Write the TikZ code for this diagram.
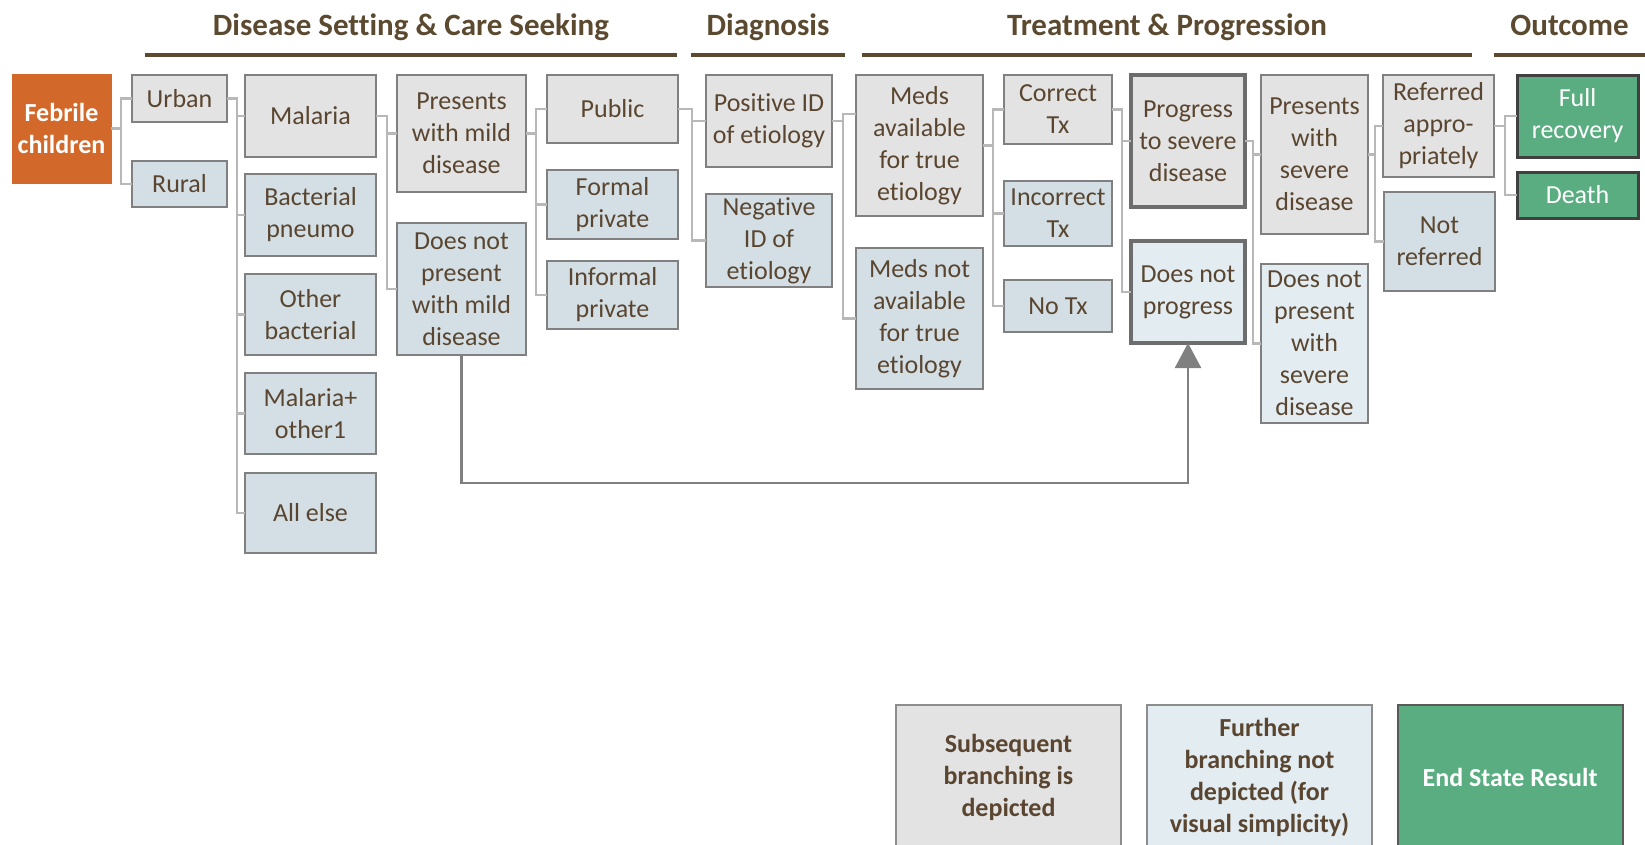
\documentclass[tikz,border=0pt]{standalone}
\usepackage{fontspec}
\setmainfont{Carlito}[Ligatures=NoCommon]
\usetikzlibrary{arrows.meta}
\definecolor{txt}{HTML}{5A4630}
\definecolor{rulec}{HTML}{5B4A30}
\definecolor{gfill}{HTML}{E3E3E3}
\definecolor{bfill}{HTML}{D3DFE5}
\definecolor{lfill}{HTML}{E2ECF1}
\definecolor{grn}{HTML}{59AD80}
\definecolor{orng}{HTML}{D2692A}
\definecolor{bord}{HTML}{808080}
\definecolor{connc}{HTML}{B8B8B8}
\begin{document}
\begin{tikzpicture}[x=1pt,y=-1pt,
  bx/.style={draw=bord, line width=2.5pt, inner sep=0pt, outer sep=0pt, align=center,
    text=txt, font=\fontsize{26}{32}\selectfont},
  gb/.style={bx, fill=gfill},
  bb/.style={bx, fill=bfill},
  lb/.style={bx, fill=lfill},
  thick box/.style={line width=3.5pt, draw=bord!85!black},
  endb/.style={bx, fill=grn, draw=black!75, line width=3pt, text=white},
  conn/.style={draw=connc, line width=2.2pt},
  arr/.style={draw=bord, line width=2.5pt, -{Triangle[width=26pt,length=25pt]}},
  head/.style={text=rulec, font=\fontsize{31}{36}\selectfont\bfseries, anchor=base},
  hrule/.style={draw=rulec, line width=4pt},
  leg/.style={draw=bord!90, line width=2pt, inner sep=0pt, outer sep=0pt, align=center,
    text=txt, font=\fontsize{26}{32}\selectfont\bfseries, minimum width=225pt, minimum height=144pt}
]
\useasboundingbox (0,0) rectangle (1645,844);
\clip (0,0) rectangle (1645,844);

% headings
\node[head] (h1) at (411,35) {Disease Setting \& Care Seeking};
\node[head] (h2) at (768,35) {Diagnosis};
\node[head] (h3) at (1167,35) {Treatment \& Progression};
\node[head] (h4) at (1569.5,35) {Outcome};
\draw[hrule] (145,55) -- (677,55);
\draw[hrule] (691,55) -- (845,55);
\draw[hrule] (862,55) -- (1472,55);
\draw[hrule] (1494,55) -- (1645,55);

% nodes
\node[bx, fill=orng, draw=orng, line width=1pt, text=white, font=\fontsize{26}{32}\selectfont\bfseries,
  minimum width=99pt, minimum height=109pt] (feb) at (61.5,128.5) {Febrile\\children};
\node[gb, minimum width=95pt, minimum height=47pt] (urban) at (179.5,98.5) {Urban};
\node[bb, minimum width=95pt, minimum height=46pt] (rural) at (179.5,184) {Rural};

\node[gb, minimum width=131pt, minimum height=82pt] (mal) at (310.5,116) {Malaria};
\node[bb, minimum width=131pt, minimum height=82pt] (bac) at (310.5,215) {Bacterial\\pneumo};
\node[bb, minimum width=131pt, minimum height=81pt] (oth) at (310.5,314.5) {Other\\bacterial};
\node[bb, minimum width=131pt, minimum height=81pt] (malo) at (310.5,413.5) {Malaria+\\other1};
\node[bb, minimum width=131pt, minimum height=80pt] (alle) at (310.5,513) {All else};

\node[gb, minimum width=129pt, minimum height=117pt] (pres) at (461.5,133.5) {Presents\\with mild\\disease};
\node[bb, minimum width=129pt, minimum height=132pt] (dnp) at (461.5,289) {Does not\\present\\with mild\\disease};

\node[gb, minimum width=131pt, minimum height=68pt] (pub) at (612.5,109) {Public};
\node[bb, minimum width=131pt, minimum height=69pt] (form) at (612.5,204.5) {Formal\\private};
\node[bb, minimum width=131pt, minimum height=68pt] (inf) at (612.5,295) {Informal\\private};

\node[gb, minimum width=126pt, minimum height=92pt] (pos) at (769,121) {Positive ID\\of etiology};
\node[bb, minimum width=126pt, minimum height=93pt] (neg) at (769,240.5) {Negative\\ID of\\etiology};

\node[gb, minimum width=127pt, minimum height=141pt] (meds) at (919.5,145.5) {Meds\\available\\for true\\etiology};
\node[bb, minimum width=127pt, minimum height=141pt] (medsn) at (919.5,318.5) {Meds not\\available\\for true\\etiology};

\node[gb, minimum width=108pt, minimum height=69pt] (cor) at (1058,109.5) {Correct\\Tx};
\node[bb, minimum width=108pt, minimum height=65pt] (inc) at (1058,213.5) {Incorrect\\Tx};
\node[bb, minimum width=108pt, minimum height=52pt] (notx) at (1058,306) {No Tx};

\node[gb, thick box, minimum width=114pt, minimum height=132pt] (prog) at (1188,141) {Progress\\to severe\\disease};
\node[lb, thick box, minimum width=114pt, minimum height=102pt] (dnpr) at (1188,292) {Does not\\progress};

\node[gb, minimum width=107pt, minimum height=159pt] (psev) at (1314.5,154.5) {Presents\\with\\severe\\disease};
\node[lb, minimum width=107pt, minimum height=159pt] (dnps) at (1314.5,343.5) {Does not\\present\\with\\severe\\disease};

\node[gb, minimum width=111pt, minimum height=102pt] (ref) at (1438.5,126) {Referred\\appro-\\priately};
\node[bb, minimum width=111pt, minimum height=99pt] (nref) at (1439.5,241.5) {Not\\referred};

\node[endb, minimum width=121pt, minimum height=82pt] (full) at (1577.5,116) {Full\\recovery};
\node[endb, minimum width=121pt, minimum height=46pt] (death) at (1577.5,195) {Death};

% connectors
\foreach \c in {urban,rural} \draw[conn] (feb.east) -- ([xshift=10pt]feb.east) |- (\c.west);
\foreach \c in {mal,bac,oth,malo,alle} \draw[conn] (urban.east) -- ([xshift=10pt]urban.east) |- (\c.west);
\foreach \c in {pres,dnp} \draw[conn] (mal.east) -- ([xshift=11pt]mal.east) |- (\c.west);
\foreach \c in {pub,form,inf} \draw[conn] (pres.east) -- ([xshift=10pt]pres.east) |- (\c.west);
\foreach \c in {pos,neg} \draw[conn] (pub.east) -- ([xshift=14pt]pub.east) |- (\c.west);
\draw[conn] (pos.east) -- ([xshift=11pt]pos.east) |- ([yshift=31.5pt]meds.west);
\draw[conn] (pos.east) -- ([xshift=11pt]pos.east) |- (medsn.west);
\foreach \c in {cor,inc,notx} \draw[conn] (meds.east) -- ([xshift=10pt]meds.east) |- (\c.west);
\foreach \c in {prog,dnpr} \draw[conn] (cor.east) -- ([xshift=10pt]cor.east) |- (\c.west);
\foreach \c in {psev,dnps} \draw[conn] (prog.east) -- ([xshift=8pt]prog.east) |- (\c.west);
\foreach \c in {ref,nref} \draw[conn] (psev.east) -- ([xshift=7pt]psev.east) |- (\c.west);
\foreach \c in {full,death} \draw[conn] (ref.east) -- ([xshift=11pt]ref.east) |- (\c.west);

% long arrow
\draw[arr] (dnp.south) -- ([yshift=-128pt]dnp.south) -| (dnpr.south);

% legend
\node[leg, fill=gfill] (l1) at (1008.5,777) {Subsequent\\branching is\\depicted};
\node[leg, fill=lfill] (l2) at (1259.5,777) {Further\\branching not\\depicted (for\\visual simplicity)};
\node[leg, fill=grn, draw=black!65, text=white] (l3) at (1510,777) {End State Result};
\end{tikzpicture}
\end{document}
